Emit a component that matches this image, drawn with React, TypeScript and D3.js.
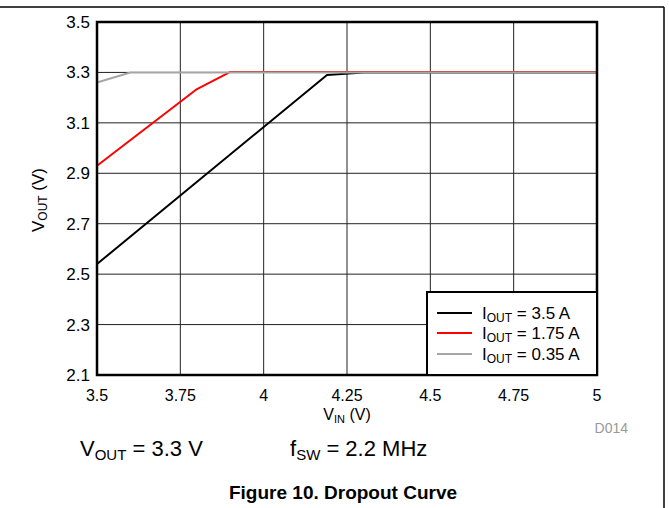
import React from "react";
import * as d3 from "d3";

const xTicks = [3.5, 3.75, 4, 4.25, 4.5, 4.75, 5];
const xTickLabels = ["3.5", "3.75", "4", "4.25", "4.5", "4.75", "5"];
const yTicks = [2.1, 2.3, 2.5, 2.7, 2.9, 3.1, 3.3, 3.5];
const yTickLabels = ["2.1", "2.3", "2.5", "2.7", "2.9", "3.1", "3.3", "3.5"];

const vinBlack = [3.5, 4.19, 4.3, 5];
const voutBlack = [2.54, 3.29, 3.3, 3.3];
const vinRed = [3.5, 3.8, 3.9, 5];
const voutRed = [2.93, 3.234, 3.302, 3.302];
const vinGray = [3.5, 3.6, 5];
const voutGray = [3.26, 3.3, 3.3];

const seriesNames = ["3.5 A", "1.75 A", "0.35 A"];
const seriesColors = ["#000000", "#ff0000", "#a6a6a6"];

const FONT = "'Liberation Sans', Arial, sans-serif";

export default function App() {
  const left = 97, right = 597, top = 22, bottom = 375;
  const x = d3.scaleLinear().domain([3.5, 5]).range([left, right]);
  const y = d3.scaleLinear().domain([2.1, 3.5]).range([bottom, top]);
  const line = d3
    .line<[number, number]>()
    .x((d) => x(d[0]))
    .y((d) => y(d[1]));
  const series = [
    d3.zip(vinBlack, voutBlack) as [number, number][],
    d3.zip(vinRed, voutRed) as [number, number][],
    d3.zip(vinGray, voutGray) as [number, number][],
  ];

  const legX = 427, legY = 292;
  const legRows = [313, 333, 354];

  return (
    <svg
      width={669}
      height={508}
      style={{ position: "absolute", left: 0, top: 0, background: "#fff" }}
      fontFamily={FONT}
    >
      {/* page border */}
      <line x1={0} y1={7} x2={664} y2={7} stroke="#000" strokeWidth={1.5} />
      <line x1={664} y1={7} x2={664} y2={508} stroke="#000" strokeWidth={1.5} />

      {/* grid */}
      {xTicks.slice(1, -1).map((t, i) => (
        <line key={"gx" + i} x1={x(t)} x2={x(t)} y1={top} y2={bottom} stroke="#222" strokeWidth={1} />
      ))}
      {yTicks.slice(1, -1).map((t, i) => (
        <line key={"gy" + i} x1={left} x2={right} y1={y(t)} y2={y(t)} stroke="#222" strokeWidth={1} />
      ))}

      {/* series */}
      {series.map((s, i) => (
        <path key={"s" + i} d={line(s) || ""} fill="none" stroke={seriesColors[i]} strokeWidth={2} strokeLinejoin="round" />
      ))}

      {/* frame */}
      <rect x={left} y={top} width={right - left} height={bottom - top} fill="none" stroke="#000" strokeWidth={2.5} />

      {/* legend */}
      <rect x={legX} y={legY} width={right - legX} height={bottom - legY} fill="#fff" stroke="#000" strokeWidth={2} />
      {seriesNames.map((n, i) => (
        <g key={"l" + i}>
          <line x1={437} x2={472} y1={legRows[i]} y2={legRows[i]} stroke={seriesColors[i]} strokeWidth={2} />
          <text x={482} y={legRows[i] + 6} fontSize={17} fill="#000">
            I<tspan fontSize={12} dy={3}>OUT</tspan>
            <tspan dy={-3}>{" = " + n}</tspan>
          </text>
        </g>
      ))}

      {/* y tick labels */}
      {yTicks.map((t, i) => (
        <text key={"yt" + i} x={90} y={y(t) + 6} fontSize={17} textAnchor="end" fill="#000">
          {yTickLabels[i]}
        </text>
      ))}
      {/* x tick labels */}
      {xTicks.map((t, i) => (
        <text key={"xt" + i} x={x(t)} y={401} fontSize={16} textAnchor="middle" fill="#000">
          {xTickLabels[i]}
        </text>
      ))}

      {/* axis titles */}
      <text x={(left + right) / 2} y={420} fontSize={16} textAnchor="middle" fill="#000">
        V<tspan fontSize={11} dy={3}>IN</tspan>
        <tspan dy={-3}> (V)</tspan>
      </text>
      <text transform="translate(44,200) rotate(-90)" fontSize={17} textAnchor="middle" fill="#000">
        V<tspan fontSize={12} dy={3}>OUT</tspan>
        <tspan dy={-3}> (V)</tspan>
      </text>

      <text x={628} y={433} fontSize={14} textAnchor="end" fill="#999">D014</text>

      <text x={80} y={456} fontSize={22} fill="#000">
        V<tspan fontSize={15} dy={4}>OUT</tspan>
        <tspan dy={-4}> = 3.3 V</tspan>
      </text>
      <text x={290} y={456} fontSize={22} fill="#000">
        f<tspan fontSize={15} dy={4}>SW</tspan>
        <tspan dy={-4}> = 2.2 MHz</tspan>
      </text>

      <text x={343} y={499} fontSize={19} fontWeight="bold" textAnchor="middle" fill="#000">
        Figure 10. Dropout Curve
      </text>
    </svg>
  );
}
